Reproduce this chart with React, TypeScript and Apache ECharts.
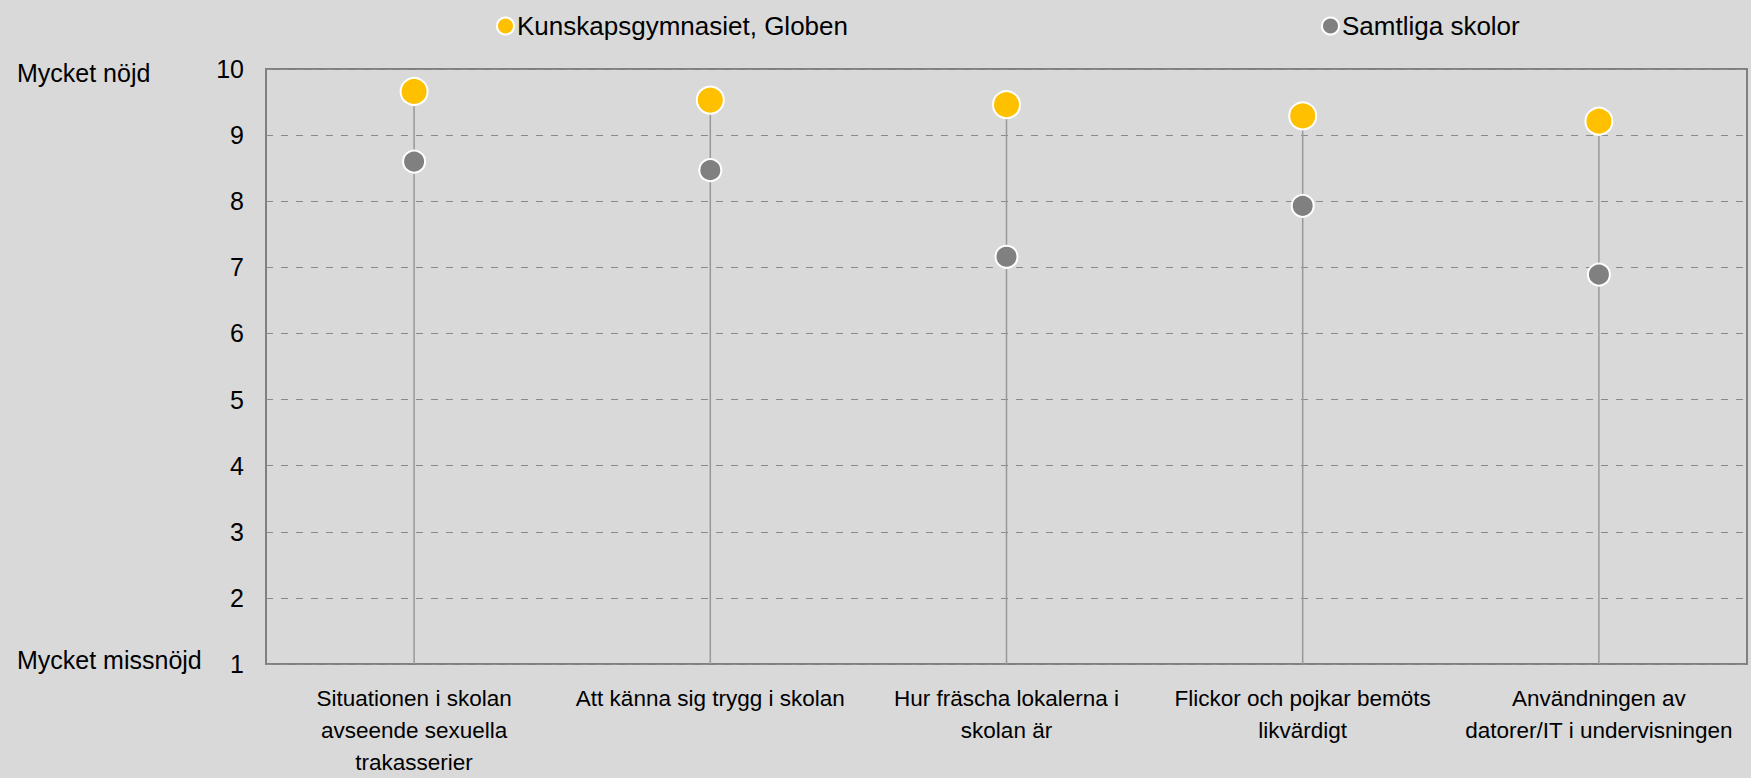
import React, { useEffect, useRef } from "react";
import * as echarts from "echarts";

const categories = [
  "Situationen i skolan\navseende sexuella\ntrakasserier",
  "Att känna sig trygg i skolan",
  "Hur fräscha lokalerna i\nskolan är",
  "Flickor och pojkar bemöts\nlikvärdigt",
  "Användningen av\ndatorer/IT i undervisningen",
];
const seriesNames = ["Kunskapsgymnasiet, Globen", "Samtliga skolor"];
const globenValues = [9.66, 9.53, 9.46, 9.29, 9.21];
const samtligaValues = [8.6, 8.47, 7.16, 7.93, 6.89];
const yTickLabels = ["1", "2", "3", "4", "5", "6", "7", "8", "9", "10"];
const endLabels = ["Mycket nöjd", "Mycket missnöjd"];

const FONT = "'Liberation Sans', Arial, sans-serif";

export default function App() {
  const ref = useRef<HTMLDivElement>(null);
  useEffect(() => {
    if (!ref.current) return;
    const chart = echarts.init(ref.current, undefined, { renderer: "svg" });
    const stems = categories.map((_, i) => [i, Math.max(globenValues[i], samtligaValues[i])]);
    chart.setOption({
      animation: false,
      backgroundColor: "#d9d9d9",
      textStyle: { fontFamily: FONT },
      grid: { left: 266, right: 4, top: 69, bottom: 112, show: true, borderColor: "#808080", borderWidth: 2, backgroundColor: "transparent" },
      legend: [
        {
          data: [seriesNames[0]],
          left: 491,
          top: 8,
          icon: "circle",
          itemWidth: 17,
          itemHeight: 17,
          itemGap: 4,
          textStyle: { fontSize: 26, color: "#000", fontFamily: FONT, padding: [0, 0, 0, -2] },
        },
        {
          data: [seriesNames[1]],
          left: 1316,
          top: 8,
          icon: "circle",
          itemWidth: 17,
          itemHeight: 17,
          itemGap: 4,
          textStyle: { fontSize: 26, color: "#000", fontFamily: FONT, padding: [0, 0, 0, -2] },
        },
      ],
      xAxis: {
        type: "category",
        data: categories,
        boundaryGap: true,
        axisLine: { show: false },
        axisTick: { show: false },
        splitLine: { show: false },
        axisLabel: { fontSize: 22.5, color: "#000", lineHeight: 32, margin: 18, interval: 0, fontFamily: FONT },
      },
      yAxis: {
        type: "value",
        min: 1,
        max: 10,
        interval: 1,
        axisLine: { show: false },
        axisTick: { show: false },
        axisLabel: {
          fontSize: 25,
          color: "#000",
          margin: 22,
          fontFamily: FONT,
          formatter: (v: number) => yTickLabels[Math.round(v) - 1] ?? "",
        },
        splitLine: { show: true, lineStyle: { color: "#8a8a8a", type: [7, 8], width: 1 } },
      },
      graphic: [
        { type: "text", left: 17, top: 60, style: { text: endLabels[0], fontSize: 25, fill: "#000", fontFamily: FONT } },
        { type: "text", left: 17, top: 647, style: { text: endLabels[1], fontSize: 25, fill: "#000", fontFamily: FONT } },
      ],
      series: [
        {
          type: "custom",
          silent: true,
          z: 1,
          data: stems,
          renderItem: (params: any, api: any) => {
            const top = api.coord([api.value(0), api.value(1)]);
            const bottom = api.coord([api.value(0), 1]);
            return {
              type: "line",
              shape: { x1: top[0], y1: top[1], x2: bottom[0], y2: bottom[1] },
              style: { stroke: "#999999", lineWidth: 1.5 },
            };
          },
        },
        {
          name: seriesNames[1],
          type: "scatter",
          z: 3,
          data: samtligaValues,
          symbol: "circle",
          symbolSize: 22,
          itemStyle: { color: "#808080", borderColor: "#ffffff", borderWidth: 2, opacity: 1 },
        },
        {
          name: seriesNames[0],
          type: "scatter",
          z: 4,
          data: globenValues,
          symbol: "circle",
          symbolSize: 27,
          itemStyle: { color: "#ffc000", borderColor: "#ffffff", borderWidth: 2, opacity: 1 },
        },
      ],
    });
    return () => chart.dispose();
  }, []);
  return <div ref={ref} style={{ position: "fixed", left: 0, top: 0, width: 1751, height: 778 }} />;
}
